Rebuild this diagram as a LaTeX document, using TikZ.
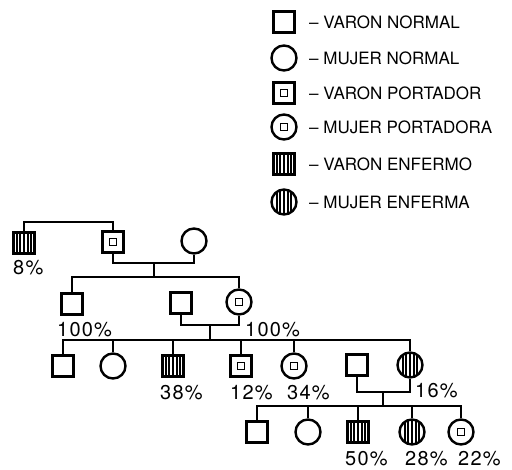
\documentclass[tikz,border=0pt]{standalone}
\usepackage{fontspec}
\setmainfont{TeX Gyre Heros}
\newfontfamily\pctfont[LetterSpace=6]{TeX Gyre Heros}

\begin{document}
\begin{tikzpicture}[x=1pt, y=-1pt,
  varon/.style   ={draw, rectangle, line width=2.4pt, minimum size=21pt, inner sep=0pt, fill=white},
  mujer/.style   ={draw, circle, line width=2.4pt, minimum size=25pt, inner sep=0pt, fill=white},
  portador/.style={path picture={\draw[line width=1.6pt]
      ([shift={(-3.5pt,-3.5pt)}]path picture bounding box.center) rectangle
      ([shift={(3.5pt,3.5pt)}]path picture bounding box.center);}},
  enfermo/.style ={path picture={\foreach \dx in {-7.2,-3.6,0,3.6,7.2}{\draw[line width=1.9pt]
      ([xshift=\dx pt]path picture bounding box.north) -- ([xshift=\dx pt]path picture bounding box.south);}}},
  pct/.style     ={anchor=base west, inner sep=0pt, font=\fontsize{20}{22}\selectfont\pctfont},
  leyenda/.style ={anchor=west, inner sep=0pt, font=\fontsize{17}{19}\selectfont},
  linea/.style   ={line width=2pt}]

  \useasboundingbox (0,0) rectangle (512,470);

  % legend (top right)
  \node[varon]           (lg1) at (284,22)  {}; \node[leyenda] (lt1) at (309,22)  {-- VARON NORMAL};
  \node[mujer]           (lg2) at (284,58)  {}; \node[leyenda] (lt2) at (309,58)  {-- MUJER NORMAL};
  \node[varon, portador] (lg3) at (284,93)  {}; \node[leyenda] (lt3) at (309,93)  {-- VARON PORTADOR};
  \node[mujer, portador] (lg4) at (284,127) {}; \node[leyenda] (lt4) at (309,127) {-- MUJER PORTADORA};
  \node[varon, enfermo]  (lg5) at (284,164) {}; \node[leyenda] (lt5) at (309,164) {-- VARON ENFERMO};
  \node[mujer, enfermo]  (lg6) at (284,202) {}; \node[leyenda] (lt6) at (309,202) {-- MUJER ENFERMA};

  % generation I : affected brother, carrier male x normal female
  \node[varon, enfermo]  (i1) at (24,243)  {};
  \node[varon, portador] (i2) at (113,242) {};
  \node[mujer]           (i3) at (194,241) {};
  \coordinate (s1) at (68,222);
  \coordinate (m1) at (154,263);
  \coordinate (d1) at (154,277);
  \draw[linea] (i1.north) |- (s1) -| (i2.north);
  \draw[linea] (i2.south) |- (m1) -| (i3.south);
  \draw[linea] (m1) -- (d1);
  \node[pct] (p1) at (13,275) {8\%};

  % generation II
  \node[varon]           (ii1) at (72,304)  {};
  \node[varon]           (ii2) at (181,303) {};
  \node[mujer, portador] (ii3) at (239,302) {};
  \draw[linea] (ii1.north) |- (d1) -| (ii3.north);
  \coordinate (m2) at (210,325);
  \coordinate (d2) at (210,340);
  \draw[linea] (ii2.south) |- (m2) -| (ii3.south);
  \draw[linea] (m2) -- (d2);
  \node[pct] (p2) at (57,337)  {100\%};
  \node[pct] (p3) at (245,337) {100\%};

  % generation III
  \node[varon]           (iii1) at (63,366)  {};
  \node[mujer]           (iii2) at (113,366) {};
  \node[varon, enfermo]  (iii3) at (173,366) {};
  \node[varon, portador] (iii4) at (241,366) {};
  \node[mujer, portador] (iii5) at (294,366) {};
  \node[varon]           (iii6) at (357,365) {};
  \node[mujer, enfermo]  (iii7) at (410,365) {};
  \draw[linea] (iii1.north) |- (d2) -| (iii7.north);
  \foreach \n in {iii2,iii3,iii4,iii5} \draw[linea] (\n.north) -- (\n.north |- d2);
  \coordinate (m3) at (383,392);
  \coordinate (d3) at (383,406);
  \draw[linea] (iii6.south) |- (m3) -| (iii7.south);
  \draw[linea] (m3) -- (d3);
  \node[pct] (p4) at (160,400) {38\%};
  \node[pct] (p5) at (230,400) {12\%};
  \node[pct] (p6) at (287,400) {34\%};
  \node[pct] (p7) at (415,398) {16\%};

  % generation IV
  \node[varon]           (iv1) at (257,432) {};
  \node[mujer]           (iv2) at (308,432) {};
  \node[varon, enfermo]  (iv3) at (358,432) {};
  \node[mujer, enfermo]  (iv4) at (412,432) {};
  \node[mujer, portador] (iv5) at (461,432) {};
  \draw[linea] (iv1.north) |- (d3) -| (iv5.north);
  \foreach \n in {iv2,iv3,iv4} \draw[linea] (\n.north) -- (\n.north |- d3);
  \node[pct] (p8)  at (345,466) {50\%};
  \node[pct] (p9)  at (405,466) {28\%};
  \node[pct] (p10) at (458,466) {22\%};
\end{tikzpicture}
\end{document}
